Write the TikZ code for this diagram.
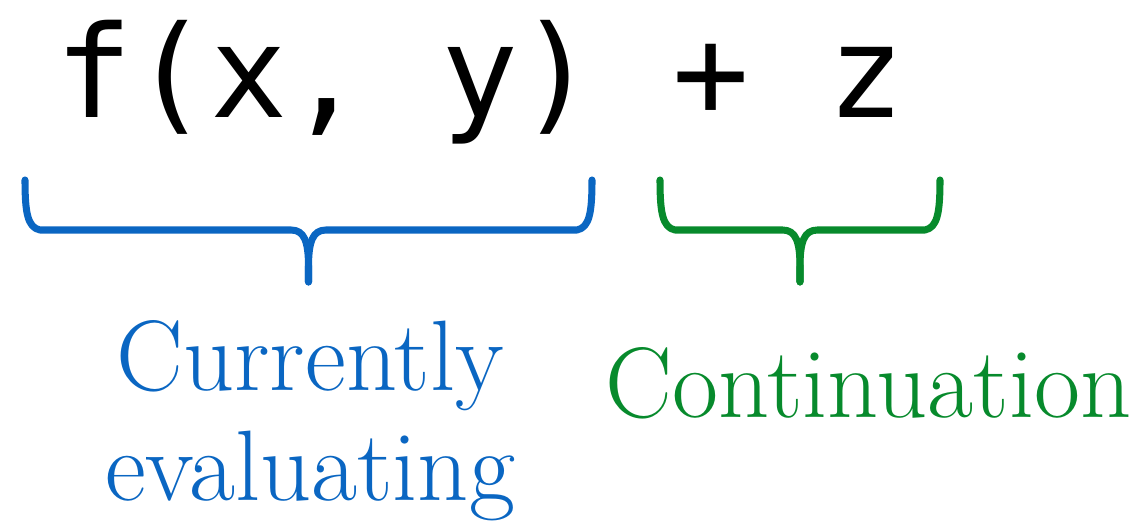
\documentclass[tikz,border=0pt]{standalone}
\usepackage{fontspec}
\newfontfamily\codefont{DejaVu Sans Mono}
\usetikzlibrary{calc}
\definecolor{ink}{HTML}{000000}
\definecolor{evalblue}{HTML}{0A66C2}
\definecolor{contgreen}{HTML}{078A2C}

\begin{document}
\begin{tikzpicture}[text=ink,line cap=round,line join=round,
  brace/.style={line width=4pt},
  lbl/.style={font=\fontsize{57}{62.4}\selectfont,inner sep=0pt}]
  \useasboundingbox (0,0) rectangle (22.8,10.42);
  \node[font=\codefont\fontsize{72.9}{80}\selectfont,inner sep=0pt,anchor=base] (expr) at (9.6,8.06) {f(x, y) + z};
  % brace under f(x, y)
  \coordinate (bl) at (0.5,6.82);
  \coordinate (br) at (11.84,6.82);
  \coordinate (bt) at (6.17,4.78);
  \draw[brace,evalblue] (bl) .. controls ($(bl)+(0,-0.65)$) and ($(bl)+(0.05,-0.95)$) .. ($(bl)+(0.3,-1)$)
    -- ($(bt)+(-0.35,1.04)$) .. controls ($(bt)+(-0.08,1.04)$) and ($(bt)+(0,0.8)$) .. ($(bt)+(0,0.3)$) -- (bt);
  \draw[brace,evalblue] (br) .. controls ($(br)+(0,-0.65)$) and ($(br)+(-0.05,-0.95)$) .. ($(br)+(-0.3,-1)$)
    -- ($(bt)+(0.35,1.04)$) .. controls ($(bt)+(0.08,1.04)$) and ($(bt)+(0,0.8)$) .. ($(bt)+(0,0.3)$) -- (bt);
  % brace under + z
  \coordinate (gl) at (13.2,6.82);
  \coordinate (gr) at (18.8,6.82);
  \coordinate (gt) at (16.0,4.78);
  \draw[brace,contgreen] (gl) .. controls ($(gl)+(0,-0.65)$) and ($(gl)+(0.05,-0.95)$) .. ($(gl)+(0.3,-1)$)
    -- ($(gt)+(-0.35,1.04)$) .. controls ($(gt)+(-0.08,1.04)$) and ($(gt)+(0,0.8)$) .. ($(gt)+(0,0.3)$) -- (gt);
  \draw[brace,contgreen] (gr) .. controls ($(gr)+(0,-0.65)$) and ($(gr)+(-0.05,-0.95)$) .. ($(gr)+(-0.3,-1)$)
    -- ($(gt)+(0.35,1.04)$) .. controls ($(gt)+(0.08,1.04)$) and ($(gt)+(0,0.8)$) .. ($(gt)+(0,0.3)$) -- (gt);
  \node[lbl,text=evalblue,align=center,anchor=north] (cur) at (6.2,4.02) {Currently\\evaluating};
  \node[lbl,text=contgreen,anchor=base] (cont) at (17.37,2.06) {Continuation};
\end{tikzpicture}
\end{document}
